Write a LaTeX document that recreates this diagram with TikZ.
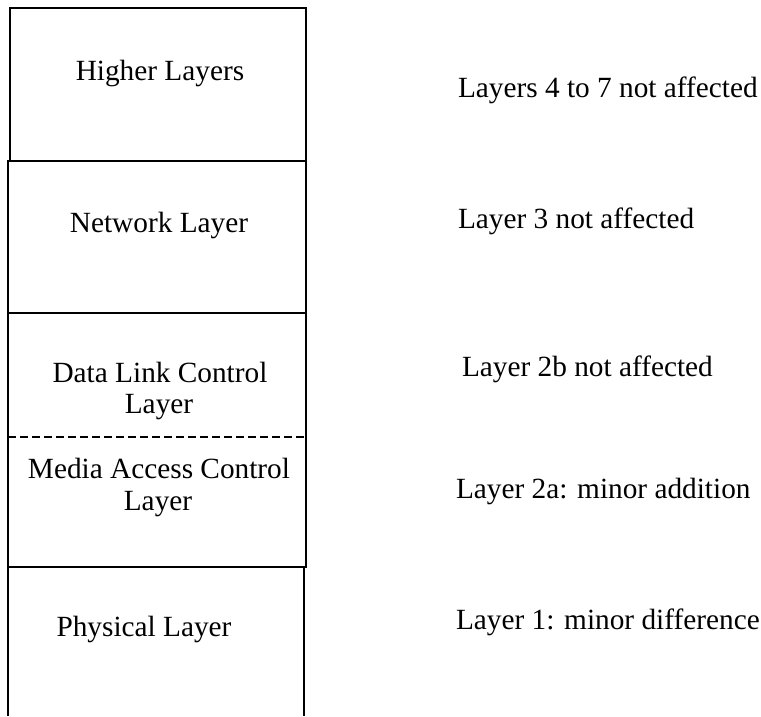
\documentclass[tikz,border=0pt]{standalone}
\usepackage{fontspec}
\setmainfont{Liberation Serif}
\begin{document}
\begin{tikzpicture}[x=1pt,y=-1pt,
  txt/.style={inner sep=0pt,outer sep=0pt,font=\fontsize{29.3}{33}\selectfont},
  boxline/.style={line width=1.4pt,black},
  sepline/.style={line width=2pt,black,dash pattern=on 7.5pt off 4.5pt}]
\useasboundingbox (0,0) rectangle (761,716);
% layer boxes
\draw[boxline] (10,8) rectangle (306,161);
\draw[boxline] (8,161) rectangle (306,313);
\draw[boxline] (8,313) rectangle (306,567);
\draw[boxline] (8,716) -- (8,567) -- (306,567);
\draw[boxline] (304,567) -- (304,716);
\draw[sepline] (8,436.5) -- (306,436.5);
% box texts
\node[txt,anchor=base] (hl) at (160,80) {Higher Layers};
\node[txt,anchor=base] (nl) at (159,232) {Network Layer};
\node[txt,anchor=base] (dlc1) at (160,382) {Data Link Control};
\node[txt,anchor=base] (dlc2) at (159,413) {Layer};
\node[txt,anchor=base] (mac1) at (159,478) {Media Access Control};
\node[txt,anchor=base] (mac2) at (158,510) {Layer};
\node[txt,anchor=base] (phy) at (144,636) {Physical Layer};
% right-hand notes
\node[txt,anchor=base west] (n47) at (458,97) {Layers 4 to 7 not affected};
\node[txt,anchor=base west] (n3) at (458,228) {Layer 3 not affected};
\node[txt,anchor=base west] (n2b) at (462,376) {Layer 2b not affected};
\node[txt,anchor=base west] (n2a) at (456,498) {Layer 2a: minor addition};
\node[txt,anchor=base west] (n1) at (456,629) {Layer 1: minor difference};
\end{tikzpicture}
\end{document}
